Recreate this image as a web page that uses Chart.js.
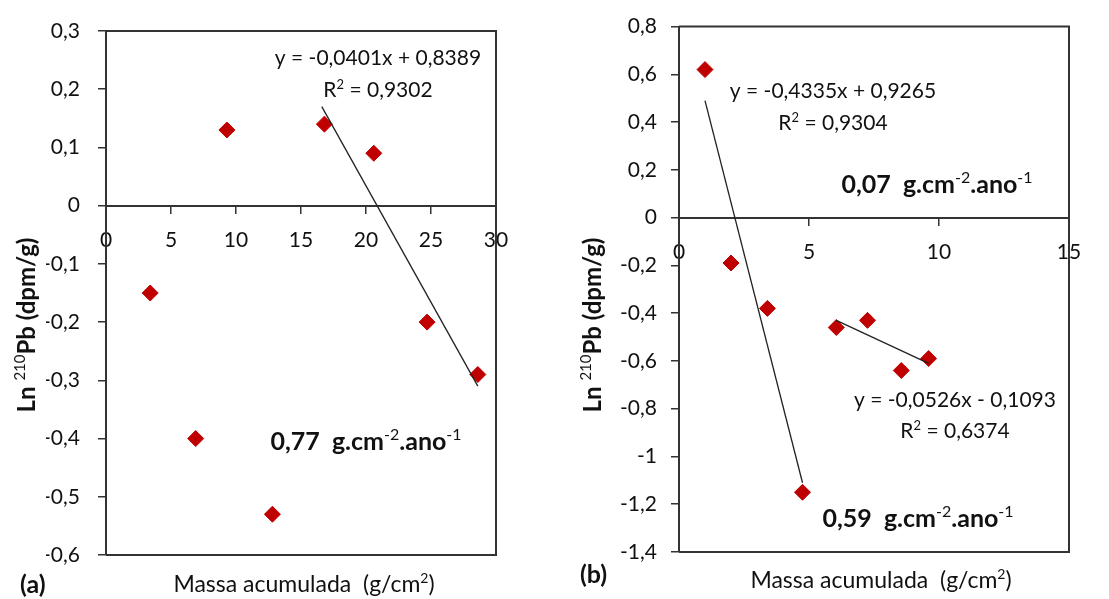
<!DOCTYPE html>
<html>
<head>
<meta charset="utf-8">
<script src="https://cdn.jsdelivr.net/npm/chart.js@4.4.1/dist/chart.umd.min.js"></script>
<style>
html, body { margin: 0; padding: 0; background: #fff; }
#wrap { position: relative; width: 1109px; height: 599px; }
.painel { position: absolute; top: 0; height: 599px; }
</style>
</head>
<body>
<div id="wrap">
  <div class="painel" style="left:0;width:555px"><canvas id="grafico-a" width="555" height="599"></canvas></div>
  <div class="painel" style="left:555px;width:554px"><canvas id="grafico-b" width="554" height="599"></canvas></div>
</div>
<script>
// Dados (a)
const massaA = [3.4, 6.9, 9.3, 12.8, 16.8, 20.6, 24.7, 28.6];
const lnPbA = [-0.15, -0.40, 0.13, -0.53, 0.14, 0.09, -0.20, -0.29];
const tendA_x = [16.6, 28.6];
const tendA_y = [0.17, -0.31];

// Dados (b)
const massaB = [1.0, 2.0, 3.4, 4.75, 6.05, 7.25, 8.55, 9.6];
const lnPbB = [0.62, -0.19, -0.38, -1.15, -0.46, -0.43, -0.64, -0.59];
const tendB1_x = [1.0, 4.75];
const tendB1_y = [0.49, -1.11];
const tendB2_x = [6.05, 9.6];
const tendB2_y = [-0.43, -0.61];

const FONTE = 'Lato, "Noto Sans", sans-serif';
const corTexto = '#111111';
const corEixo = '#333333';
const corPonto = '#C00000';

function pares(xs, ys) {
    return xs.map((x, i) => ({ x: x, y: ys[i] }));
}

// Formato tipo Excel com vírgula decimal
function formatar(v) {
    const n = Number(v.toFixed(2));
    return String(n).replace('.', ',');
}

// Escreve texto com partes sobrescritas
function escreverRico(ctx, t) {
    const tam = t.tam;
    const partes = t.partes.map(p => {
        const sup = !!p[1];
        const peso = p[2] || (sup ? 'normal' : t.peso);
        const fs = sup ? Math.round(tam * 0.62) : tam;
        ctx.font = peso + ' ' + fs + 'px ' + FONTE;
        return { txt: p[0], sup: sup, font: ctx.font, w: ctx.measureText(p[0]).width };
    });
    const total = partes.reduce((s, p) => s + p.w, 0);
    ctx.save();
    ctx.translate(t.x, t.y);
    if (t.rot) ctx.rotate(-Math.PI / 2);
    let x = t.alinh === 'center' ? -total / 2 : 0;
    ctx.fillStyle = corTexto;
    ctx.textBaseline = 'alphabetic';
    ctx.textAlign = 'left';
    partes.forEach(p => {
        ctx.font = p.font;
        ctx.fillText(p.txt, x, p.sup ? -tam * 0.4 : 0);
        x += p.w;
    });
    ctx.restore();
}

const molduraETextos = {
    id: 'moldura',
    afterDraw(chart, args, opts) {
        const ctx = chart.ctx;
        const a = chart.chartArea;
        ctx.save();
        ctx.strokeStyle = corEixo;
        ctx.lineWidth = 2;
        ctx.beginPath();
        ctx.moveTo(a.left, a.top);
        ctx.lineTo(a.right, a.top);
        ctx.lineTo(a.right, a.bottom);
        ctx.lineTo(a.left, a.bottom);
        ctx.stroke();
        ctx.restore();
        opts.textos.forEach(t => escreverRico(ctx, t));
    }
};

function criarGrafico(canvas, cfg) {
    const larg = canvas.width, alt = canvas.height;
    const largY = 60;
    const datasets = [{
        data: pares(cfg.xs, cfg.ys),
        pointStyle: 'rectRot',
        pointRadius: 8,
        pointHoverRadius: 8,
        backgroundColor: corPonto,
        borderColor: corPonto,
        borderWidth: 1,
        showLine: false,
        order: 1
    }];
    cfg.tendencias.forEach(tl => {
        datasets.push({
            data: tl,
            showLine: true,
            pointRadius: 0,
            borderColor: '#222',
            borderWidth: 1.3,
            order: 0
        });
    });
    return new Chart(canvas, {
        type: 'scatter',
        data: { datasets: datasets },
        options: {
            responsive: false,
            animation: false,
            layout: {
                padding: {
                    left: cfg.area.left - largY,
                    right: larg - cfg.area.right,
                    top: cfg.area.top,
                    bottom: alt - cfg.area.bottom
                }
            },
            plugins: {
                legend: { display: false },
                tooltip: { enabled: false },
                moldura: { textos: cfg.textos }
            },
            scales: {
                x: {
                    type: 'linear',
                    position: { y: 0 },
                    min: cfg.xMin, max: cfg.xMax,
                    ticks: {
                        stepSize: cfg.xPasso,
                        padding: cfg.xPad,
                        color: corTexto,
                        font: { family: FONTE, size: 21 },
                        callback: v => formatar(v)
                    },
                    grid: { drawOnChartArea: false, tickLength: 7, color: corEixo, lineWidth: 1.5 },
                    border: { color: corEixo, width: 2 }
                },
                y: {
                    type: 'linear',
                    position: 'left',
                    min: cfg.yMin, max: cfg.yMax,
                    afterFit: s => { s.width = largY; },
                    ticks: {
                        stepSize: cfg.yPasso,
                        padding: cfg.yPad,
                        color: corTexto,
                        font: { family: FONTE, size: 21 },
                        callback: v => formatar(v)
                    },
                    grid: { drawOnChartArea: false, tickLength: 8, color: corEixo, lineWidth: 1.5 },
                    border: { color: corEixo, width: 2 }
                }
            }
        },
        plugins: [molduraETextos]
    });
}

const unidade = (valor) => [[valor + '  g.cm'], ['-2', true], ['.ano'], ['-1', true]];
const tituloY = [['Ln '], ['210', true], ['Pb (dpm/g)']];
const tituloX = [['Massa acumulada  (g/cm'], ['2', true], [')']];

criarGrafico(document.getElementById('grafico-a'), {
    xs: massaA, ys: lnPbA,
    tendencias: [pares(tendA_x, tendA_y)],
    area: { left: 106, right: 496, top: 31, bottom: 555 },
    xMin: 0, xMax: 30, xPasso: 5, xPad: 15,
    yMin: -0.6, yMax: 0.3, yPasso: 0.1, yPad: 18,
    textos: [
        { partes: [['y = -0,0401x + 0,8389']], x: 378, y: 65, tam: 21, peso: 'normal', alinh: 'center' },
        { partes: [['R'], ['2', true], [' = 0,9302']], x: 378, y: 97, tam: 21, peso: 'normal', alinh: 'center' },
        { partes: unidade('0,77'), x: 366, y: 450, tam: 25, peso: 'bold', alinh: 'center' },
        { partes: tituloX, x: 304, y: 592, tam: 23, peso: 'normal', alinh: 'center' },
        { partes: [['(a)']], x: 20, y: 593, tam: 25, peso: 'bold', alinh: 'left' },
        { partes: tituloY, x: 35, y: 325, tam: 24, peso: 'bold', alinh: 'center', rot: true }
    ]
});

criarGrafico(document.getElementById('grafico-b'), {
    xs: massaB, ys: lnPbB,
    tendencias: [pares(tendB1_x, tendB1_y), pares(tendB2_x, tendB2_y)],
    area: { left: 124, right: 514, top: 24, bottom: 552 },
    xMin: 0, xMax: 15, xPasso: 5, xPad: 15,
    yMin: -1.4, yMax: 0.8, yPasso: 0.2, yPad: 14,
    textos: [
        { partes: [['y = -0,4335x + 0,9265']], x: 278, y: 98, tam: 21, peso: 'normal', alinh: 'center' },
        { partes: [['R'], ['2', true], [' = 0,9304']], x: 278, y: 130, tam: 21, peso: 'normal', alinh: 'center' },
        { partes: [['y = -0,0526x - 0,1093']], x: 400, y: 407, tam: 21, peso: 'normal', alinh: 'center' },
        { partes: [['R'], ['2', true], [' = 0,6374']], x: 400, y: 438, tam: 21, peso: 'normal', alinh: 'center' },
        { partes: unidade('0,07'), x: 382, y: 193, tam: 25, peso: 'bold', alinh: 'center' },
        { partes: unidade('0,59'), x: 363, y: 527, tam: 25, peso: 'bold', alinh: 'center' },
        { partes: tituloX, x: 326, y: 588, tam: 23, peso: 'normal', alinh: 'center' },
        { partes: [['(b)']], x: 25, y: 583, tam: 25, peso: 'bold', alinh: 'left' },
        { partes: tituloY, x: 46, y: 325, tam: 24, peso: 'bold', alinh: 'center', rot: true }
    ]
});
</script>
</body>
</html>
